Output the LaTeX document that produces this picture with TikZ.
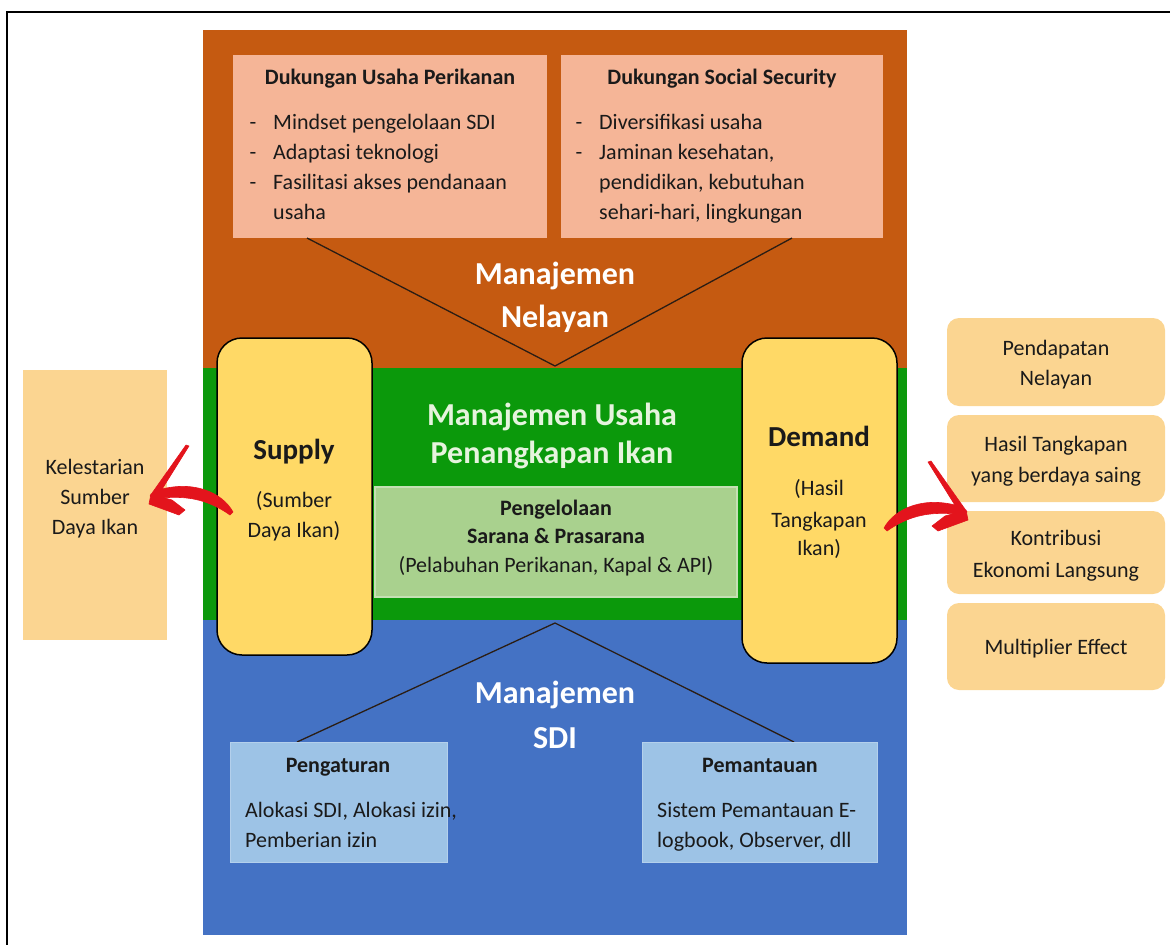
\documentclass[tikz,border=0pt]{standalone}
\usepackage{fontspec}
\setmainfont{Carlito}
\definecolor{orangebg}{HTML}{C55A11}
\definecolor{greenbg}{HTML}{0B990B}
\definecolor{bluebg}{HTML}{4472C4}
\definecolor{salmon}{HTML}{F5B597}
\definecolor{gold}{HTML}{FFD966}
\definecolor{peach}{HTML}{FBD591}
\definecolor{lgreen}{HTML}{A9D18E}
\definecolor{lgreenb}{HTML}{C5E0B4}
\definecolor{lblue}{HTML}{9DC3E6}
\definecolor{lblueb}{HTML}{B4D0EC}
\definecolor{arrowred}{HTML}{E3141C}
\definecolor{titlegreen}{HTML}{E6F4DE}
\definecolor{txt}{HTML}{1A1A1A}
\definecolor{linec}{HTML}{2B1D14}
\begin{document}
\begin{tikzpicture}[x=1pt,y=-1pt,
  band/.style={inner sep=0, outer sep=0, anchor=north west, draw=none},
  box/.style={inner sep=0, outer sep=0, anchor=north west},
  body/.style={font=\fontsize{22}{28}\selectfont, text=txt, inner sep=0, anchor=base},
  bodyl/.style={body, anchor=base west},
  hd/.style={font=\bfseries\fontsize{22}{28}\selectfont, text=txt, inner sep=0, anchor=base},
  big/.style={font=\bfseries\fontsize{32}{38}\selectfont, text=white, inner sep=0, anchor=base},
  sd/.style={font=\bfseries\fontsize{29}{34}\selectfont, text=txt, inner sep=0, anchor=base},
  vline/.style={draw=linec, line width=1.3pt},
  redarrow/.style={fill=arrowred, draw=arrowred, line width=0.6pt, line join=round}
]
\useasboundingbox (0,0) rectangle (1170,945);
% frame
\draw[line width=2pt] (7,945) -- (7,12) -- (1170,12);

% bands
\node[band, fill=orangebg, minimum width=704, minimum height=338] (orange) at (203,30) {};
\node[band, fill=greenbg, minimum width=704, minimum height=253] (green) at (203,368) {};
\node[band, fill=bluebg, minimum width=704, minimum height=315] (blue) at (203,620) {};

% orange sub boxes
\node[box, fill=salmon, minimum width=314, minimum height=183] (usaha) at (233,55) {};
\node[box, fill=salmon, minimum width=322, minimum height=183] (social) at (561,55) {};

% V lines (top)
\coordinate (vL) at (307,238);
\coordinate (vA) at (555,366);
\coordinate (vR) at (792,238);
\draw[vline] (vL) -- (vA) -- (vR);

% texts in orange boxes
\node[hd] (uh) at (390,84) {Dukungan Usaha Perikanan};
\node[body] (ud1) at (253,129) {-};
\node[bodyl] (u1) at (273,129) {Mindset pengelolaan SDI};
\node[body] (ud2) at (253,159) {-};
\node[bodyl] (u2) at (273,159) {Adaptasi teknologi};
\node[body] (ud3) at (253,189) {-};
\node[bodyl] (u3) at (273,189) {Fasilitasi akses pendanaan};
\node[bodyl] (u4) at (273,219) {usaha};

\node[hd] (sh) at (722,84) {Dukungan Social Security};
\node[body] (sd1) at (579,129) {-};
\node[bodyl] (s1) at (599,129) {Diversifikasi usaha};
\node[body] (sd2) at (579,159) {-};
\node[bodyl] (s2) at (599,159) {Jaminan kesehatan,};
\node[bodyl] (s3) at (599,189) {pendidikan, kebutuhan};
\node[bodyl] (s4) at (599,219) {sehari-hari, lingkungan};

\node[big] (mn1) at (555,284) {Manajemen};
\node[big] (mn2) at (555,327) {Nelayan};

% green title
\node[big, text=titlegreen] (mu1) at (552,425) {Manajemen Usaha};
\node[big, text=titlegreen] (mu2) at (552,463) {Penangkapan Ikan};

% pengelolaan box
\node[box, fill=lgreen, draw=lgreenb, line width=1.5pt, minimum width=362, minimum height=110] (peng) at (375,487) {};
\node[hd] (p1) at (556,515) {Pengelolaan};
\node[hd] (p2) at (556,543) {Sarana \& Prasarana};
\node[body] (p3) at (556,572) {(Pelabuhan Perikanan, Kapal \& API)};

% blue inverted V
\coordinate (bA) at (555,623);
\coordinate (bL) at (297,742);
\coordinate (bR) at (794,742);
\draw[vline] (bL) -- (bA) -- (bR);

\node[big] (ms1) at (555,703) {Manajemen};
\node[big] (ms2) at (555,748) {SDI};

% blue boxes
\node[box, fill=lblue, draw=lblueb, line width=1pt, minimum width=217, minimum height=120] (atur) at (230,742) {};
\node[box, fill=lblue, draw=lblueb, line width=1pt, minimum width=235, minimum height=120] (pantau) at (642,742) {};
\node[hd] (a1) at (338,772) {Pengaturan};
\node[bodyl] (a2) at (245,817) {Alokasi SDI, Alokasi izin,};
\node[bodyl] (a3) at (245,847) {Pemberian izin};
\node[hd] (m1) at (760,772) {Pemantauan};
\node[bodyl] (m2) at (657,817) {Sistem Pemantauan E-};
\node[bodyl] (m3) at (657,847) {logbook, Observer, dll};

% supply / demand
\node[box, fill=gold, draw=black, line width=1.5pt, rounded corners=25pt, minimum width=155, minimum height=317] (supply) at (217,338) {};
\node[box, fill=gold, draw=black, line width=1.5pt, rounded corners=25pt, minimum width=155, minimum height=325] (demand) at (742,338) {};
\node[sd] (su1) at (294,459) {Supply};
\node[body] (su2) at (294,507) {(Sumber};
\node[body] (su3) at (294,537) {Daya Ikan)};
\node[sd] (de1) at (819,446) {Demand};
\node[body] (de2) at (819,495) {(Hasil};
\node[body] (de3) at (819,527) {Tangkapan};
\node[body] (de4) at (819,555) {Ikan)};

% kelestarian
\node[box, fill=peach, minimum width=144, minimum height=270] (kel) at (23,370) {};
\node[body] (k1) at (95,474) {Kelestarian};
\node[body] (k2) at (95,504) {Sumber};
\node[body] (k3) at (95,534) {Daya Ikan};

% right boxes
\node[box, fill=peach, rounded corners=12pt, minimum width=218, minimum height=88] (r1) at (947,318) {};
\node[box, fill=peach, rounded corners=12pt, minimum width=218, minimum height=87] (r2) at (947,415) {};
\node[box, fill=peach, rounded corners=12pt, minimum width=218, minimum height=83] (r3) at (947,511) {};
\node[box, fill=peach, rounded corners=12pt, minimum width=218, minimum height=87] (r4) at (947,603) {};
\node[body] (r1a) at (1056,355) {Pendapatan};
\node[body] (r1b) at (1056,385) {Nelayan};
\node[body] (r2a) at (1056,451) {Hasil Tangkapan};
\node[body] (r2b) at (1056,482) {yang berdaya saing};
\node[body] (r3a) at (1056,545) {Kontribusi};
\node[body] (r3b) at (1056,577) {Ekonomi Langsung};
\node[body] (r4a) at (1056,654) {Multiplier Effect};

% red arrows (brush style)
% right: from Demand to the outcome boxes
\path[redarrow] (884,528) .. controls (895,508) and (925,495) .. (962,507)
  -- (966,515) .. controls (940,512) and (915,511) .. (887,531) -- cycle;
\path[redarrow] (966,510) -- (968,520) -- (938,531) -- (932,526) -- (945,516) -- cycle;
\path[redarrow] (967,512) -- (931,461) -- (928,462) -- (958,510) -- cycle;
% left: from Supply to Kelestarian
\path[redarrow] (233,512) .. controls (222,492) and (192,479) .. (155,491)
  -- (151,499) .. controls (177,496) and (202,495) .. (230,515) -- cycle;
\path[redarrow] (151,494) -- (149,504) -- (179,515) -- (185,510) -- (172,500) -- cycle;
\path[redarrow] (150,496) -- (186,445) -- (189,446) -- (159,494) -- cycle;
\end{tikzpicture}
\end{document}
